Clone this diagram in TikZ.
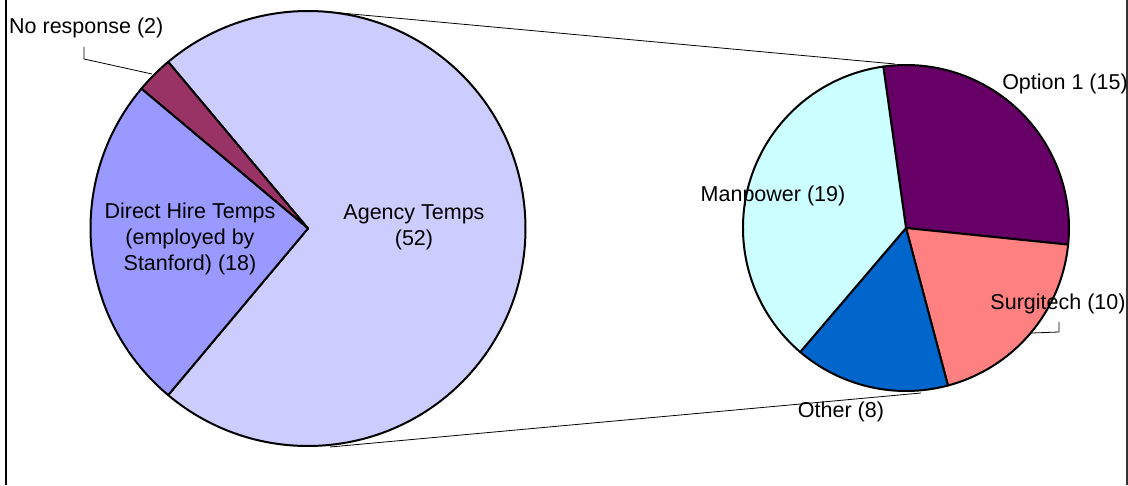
\documentclass[tikz,border=0pt]{standalone}
\usepackage{fontspec}
\setmainfont{Liberation Sans}
\usetikzlibrary{calc}
\definecolor{agency}{HTML}{CCCCFF}
\definecolor{direct}{HTML}{9999FF}
\definecolor{noresp}{HTML}{993366}
\definecolor{optone}{HTML}{660066}
\definecolor{manpow}{HTML}{CCFFFF}
\definecolor{surgi}{HTML}{FF8080}
\definecolor{other}{HTML}{0066CC}
\tikzset{
  slice/.style={draw=black, line width=2pt, line join=round},
  conn/.style={draw=black, line width=0.8pt},
  lbl/.style={font=\fontsize{21.5}{26}\selectfont, text=black, inner sep=0pt, align=center},
}
\newcommand{\pieslice}[5]{% center, radius, start, end, colour
  \fill[#5] (#1) -- ($(#1)+(#3:#2)$) arc[start angle=#3, end angle=#4, radius=#2] -- cycle;
  \draw[slice] (#1) -- ($(#1)+(#3:#2)$) arc[start angle=#3, end angle=#4, radius=#2] -- cycle;
}
\begin{document}
\begin{tikzpicture}[x=1pt,y=1pt]
\useasboundingbox (0,0) rectangle (1128,485);
\fill[white] (0,0) rectangle (1128,485);
% frame sides
\coordinate (fl1) at (6,0); \coordinate (fl2) at (6,485);
\coordinate (fr1) at (1126.8,0); \coordinate (fr2) at (1126.8,485);
\draw[black, line width=1.2pt] (fl1) -- (fl2);
\draw[black!80, line width=2pt] (fr1) -- (fr2);
% connector lines between pies
\coordinate (bt) at (330,473);
\coordinate (st) at (895,421);
\coordinate (bb) at (330,38);
\coordinate (sb) at (921,92);
\draw[conn] (bt) -- (st);
\draw[conn] (bb) -- (sb);
% big pie
\coordinate (C1) at (308,256.5);
\pieslice{C1}{217.5}{-130}{130}{agency}
\pieslice{C1}{217.5}{130}{140}{noresp}
\pieslice{C1}{217.5}{140}{230}{direct}
% small pie
\coordinate (C2) at (906,257);
\pieslice{C2}{163}{-5.85}{98}{optone}
\pieslice{C2}{163}{-75.08}{-5.85}{surgi}
\pieslice{C2}{163}{-130.46}{-75.08}{other}
\pieslice{C2}{163}{98}{229.54}{manpow}
% leader lines
\coordinate (nr1) at (84,438); \coordinate (nr2) at (84,426); \coordinate (nr3) at (152,411);
\draw[conn] (nr1) -- (nr2) -- (nr3);
\coordinate (sg1) at (1059,163); \coordinate (sg2) at (1059,153); \coordinate (sg3) at (1032,152);
\draw[conn] (sg1) -- (sg2) -- (sg3);
% labels
\node[lbl, anchor=base west] (lnr) at (9,451) {No response (2)};
\node[lbl] (lag) at (414,258) {Agency Temps\\(52)};
\node[lbl] (ldh) at (190,246) {Direct Hire Temps\\(employed by\\Stanford) (18)};
\node[lbl] (lmp) at (773,289) {Manpower (19)};
\node[lbl] (lo1) at (1065,401) {Option 1 (15)};
\node[lbl] (lsg) at (1058,181) {Surgitech (10)};
\node[lbl] (lot) at (841,73) {Other (8)};
\end{tikzpicture}
\end{document}
